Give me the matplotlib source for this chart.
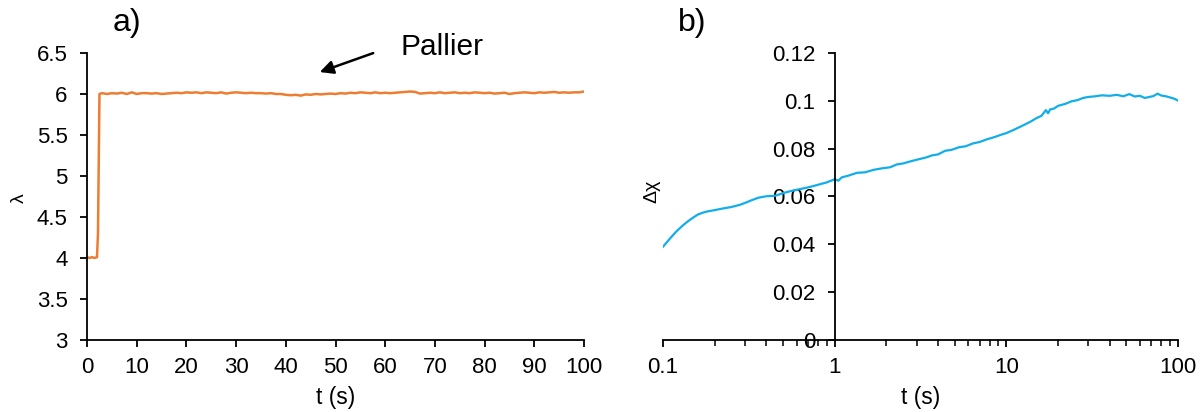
import numpy as np
import matplotlib.pyplot as plt
from matplotlib.ticker import FixedLocator, NullFormatter

plt.rcParams['font.family'] = ['Liberation Sans', 'DejaVu Sans']

# --- panel a) : lambda vs t (values read from the picture)
t_a = [0, 0.5, 1, 1.5, 2, 2.2, 2.5, 3, 4, 5, 6, 7, 8, 9, 10, 11, 12, 13, 14, 15,
       16, 17, 18, 19, 20, 21, 22, 23, 24, 25, 26, 27, 28, 29, 30, 31, 32, 33, 34,
       35, 36, 37, 38, 39, 40, 41, 42, 43, 44, 45, 46, 47, 48, 49, 50, 51, 52, 53,
       54, 55, 56, 57, 58, 59, 60, 61, 62, 63, 64, 65, 66, 67, 68, 69, 70, 71, 72,
       73, 74, 75, 76, 77, 78, 79, 80, 81, 82, 83, 84, 85, 86, 87, 88, 89, 90, 91,
       92, 93, 94, 95, 96, 97, 98, 99, 100]
lam = [4.01, 4.0, 4.01, 4.0, 4.01, 4.3, 6.0, 6.01, 6.0, 6.01, 6.005, 6.015, 6.0, 6.02,
       6.0, 6.01, 6.01, 6.005, 6.01, 6.0, 6.005, 6.01, 6.015, 6.01, 6.02, 6.015, 6.02,
       6.01, 6.02, 6.015, 6.01, 6.02, 6.005, 6.015, 6.02, 6.015, 6.01, 6.015, 6.01,
       6.01, 6.005, 6.01, 6.0, 6.0, 5.99, 5.985, 5.99, 5.98, 5.995, 5.99, 6.0, 5.995,
       6.0, 6.005, 6.0, 6.01, 6.005, 6.015, 6.01, 6.02, 6.015, 6.01, 6.02, 6.01,
       6.015, 6.01, 6.015, 6.02, 6.025, 6.03, 6.025, 6.005, 6.01, 6.015, 6.01, 6.02,
       6.01, 6.015, 6.02, 6.01, 6.015, 6.01, 6.02, 6.015, 6.01, 6.015, 6.005, 6.01,
       6.015, 6.0, 6.01, 6.015, 6.02, 6.015, 6.01, 6.02, 6.015, 6.02, 6.025, 6.015,
       6.02, 6.015, 6.02, 6.02, 6.03]

# --- panel b) : delta chi vs t (log scale)
t_b = [0.1, 0.11, 0.12, 0.13, 0.14, 0.15, 0.16, 0.17, 0.18, 0.2, 0.22, 0.25, 0.28,
       0.3, 0.33, 0.36, 0.4, 0.45, 0.5, 0.55, 0.6, 0.7, 0.8, 0.9, 1.0, 1.05, 1.1,
       1.2, 1.35, 1.5, 1.7, 1.9, 2.1, 2.3, 2.5, 2.8, 3.1, 3.4, 3.7, 4.0, 4.4, 4.8,
       5.3, 5.8, 6.4, 7.0, 7.7, 8.5, 9.3, 10, 11, 12, 13, 14, 15, 16, 17, 17.5,
       18, 19, 20, 22, 24, 26, 28, 30, 33, 36, 40, 44, 48, 52, 56, 60, 64, 68, 72,
       76, 80, 85, 90, 95, 100]
dchi = [0.039, 0.0425, 0.0455, 0.0478, 0.0497, 0.0512, 0.0525, 0.0532, 0.0537,
        0.0543, 0.0549, 0.0556, 0.0565, 0.0573, 0.0585, 0.0595, 0.0601, 0.0603,
        0.0614, 0.0622, 0.0628, 0.0638, 0.0649, 0.0659, 0.0672, 0.0666, 0.0680,
        0.0687, 0.0699, 0.0701, 0.0712, 0.0718, 0.0722, 0.0734, 0.0738, 0.0748,
        0.0756, 0.0763, 0.0772, 0.0776, 0.0791, 0.0795, 0.0806, 0.0810, 0.0822,
        0.0828, 0.0839, 0.0848, 0.0858, 0.0865, 0.0878, 0.0891, 0.0903, 0.0915,
        0.0928, 0.0937, 0.0961, 0.0948, 0.0964, 0.0968, 0.0979, 0.0987, 0.0998,
        0.1003, 0.1012, 0.1016, 0.1019, 0.1023, 0.1021, 0.1025, 0.1019, 0.1028,
        0.1018, 0.1021, 0.1012, 0.1016, 0.1020, 0.1030, 0.1022, 0.1019, 0.1014,
        0.1009, 0.1001]

orange = '#ED7D31'
blue = '#12AEEA'
tick_fs = 16

fig = plt.figure(figsize=(12.04, 4.12), dpi=100)

# ---- a)
ax1 = fig.add_axes([0.0723, 0.1748, 0.4128, 0.6966])
ax1.plot(t_a, lam, color=orange, lw=1.8)
ax1.set_xlim(0, 100)
ax1.set_ylim(3, 6.5)
ax1.set_xticks(np.arange(0, 101, 10))
ax1.set_yticks(np.arange(3, 6.6, 0.5))
ax1.set_yticklabels(['3', '3.5', '4', '4.5', '5', '5.5', '6', '6.5'])
for s in ['top', 'right']:
    ax1.spines[s].set_visible(False)
for s in ['left', 'bottom']:
    ax1.spines[s].set_linewidth(1.3)
ax1.tick_params(direction='out', length=5, width=1.3, labelsize=tick_fs)
ax1.tick_params(axis='x', pad=7)
ax1.tick_params(axis='y', pad=9)
ax1.set_xlabel('t (s)', fontsize=16.5)
ax1.xaxis.set_label_coords(0.5, -0.202)
ax1.xaxis.label.set_va('center')
fig.text(0.0158, 0.519, 'λ', fontsize=14, rotation=90, va='center', ha='center')
ax1.annotate('', xy=(46.3, 6.256), xytext=(58.1, 6.51),
             arrowprops=dict(arrowstyle='-|>', color='black', lw=1.8,
                             mutation_scale=20), annotation_clip=False)
ax1.text(63.0, 6.57, 'Pallier', fontsize=21.5, va='center', ha='left', clip_on=False)
fig.text(0.0939, 0.944, 'a)', fontsize=23, va='center', ha='left')

# ---- b)
ax2 = fig.add_axes([0.5507, 0.1748, 0.4277, 0.6966])
ax2.plot(t_b, dchi, color=blue, lw=1.6)
ax2.set_xscale('log')
ax2.set_xlim(0.1, 100)
ax2.set_ylim(0, 0.12)
ax2.spines['left'].set_position(('data', 1))
for s in ['top', 'right']:
    ax2.spines[s].set_visible(False)
for s in ['left', 'bottom']:
    ax2.spines[s].set_linewidth(1.3)
ax2.set_xticks([0.1, 1, 10, 100])
ax2.set_xticklabels(['0.1', '1', '10', '100'])
minors = [m * d for d in [0.1, 1, 10] for m in range(2, 10)]
ax2.xaxis.set_minor_locator(FixedLocator(minors))
ax2.xaxis.set_minor_formatter(NullFormatter())
ax2.set_yticks(np.arange(0, 0.121, 0.02))
ax2.set_yticklabels(['0', '0.02', '0.04', '0.06', '0.08', '0.1', '0.12'])
ax2.tick_params(which='major', direction='out', length=5, width=1.3,
                labelsize=tick_fs)
ax2.tick_params(axis='x', which='major', pad=7)
ax2.tick_params(axis='y', which='major', pad=9)
ax2.tick_params(which='minor', direction='out', length=4, width=1.1)
ax2.set_xlabel('t (s)', fontsize=16.5)
ax2.xaxis.set_label_coords(0.5, -0.202)
ax2.xaxis.label.set_va('center')
ax2.text(0.0863, 0.0623, 'Δχ', fontsize=14, rotation=90, va='center', ha='center')
fig.text(0.563, 0.944, 'b)', fontsize=23, va='center', ha='left')

fig.savefig('out.png', dpi=100)
